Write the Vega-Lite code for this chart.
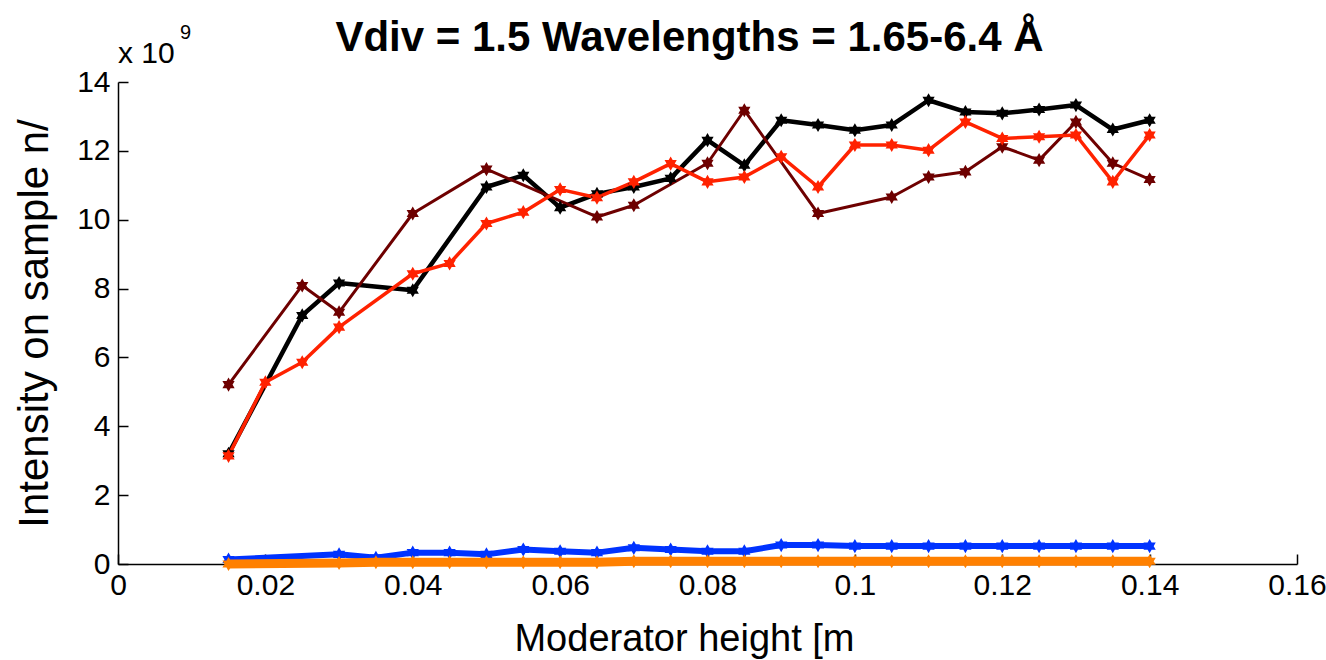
{
  "$schema": "https://vega.github.io/schema/vega-lite/v6.json",
  "width": 1179,
  "height": 482,
  "autosize": {"type": "none"},
  "padding": {"left": 118, "top": 82, "right": 29, "bottom": 96},
  "background": "white",
  "config": {
    "view": {"stroke": null},
    "font": "Liberation Sans",
    "axis": {
      "domainColor": "black", "domainWidth": 1.5, "tickColor": "black", "tickWidth": 1.5,
      "tickSize": -10, "grid": false, "labelFontSize": 30, "labelColor": "black",
      "labelFont": "Liberation Sans", "titleFont": "Liberation Sans",
      "titleFontSize": 40, "titleFontWeight": "normal", "titleColor": "black",
      "labelOverlap": false, "labelBound": false, "labelFlush": false
    }
  },
  "title": {
    "text": "Vdiv = 1.5 Wavelengths = 1.65-6.4 Å",
    "fontSize": 42, "fontWeight": "bold", "font": "Liberation Sans", "color": "black",
    "anchor": "middle", "frame": "group", "dx": -18, "offset": -37
  },
  "datasets": {"curves": [
    {"series": "A", "x": 0.015, "y": 3.2},
    {"series": "A", "x": 0.025, "y": 7.22},
    {"series": "A", "x": 0.03, "y": 8.16},
    {"series": "A", "x": 0.04, "y": 7.95},
    {"series": "A", "x": 0.05, "y": 10.95},
    {"series": "A", "x": 0.055, "y": 11.29},
    {"series": "A", "x": 0.06, "y": 10.35},
    {"series": "A", "x": 0.065, "y": 10.75},
    {"series": "A", "x": 0.07, "y": 10.95},
    {"series": "A", "x": 0.075, "y": 11.2},
    {"series": "A", "x": 0.08, "y": 12.31},
    {"series": "A", "x": 0.085, "y": 11.58},
    {"series": "A", "x": 0.09, "y": 12.89},
    {"series": "A", "x": 0.095, "y": 12.75},
    {"series": "A", "x": 0.1, "y": 12.6},
    {"series": "A", "x": 0.105, "y": 12.75},
    {"series": "A", "x": 0.11, "y": 13.47},
    {"series": "A", "x": 0.115, "y": 13.13},
    {"series": "A", "x": 0.12, "y": 13.09},
    {"series": "A", "x": 0.125, "y": 13.2},
    {"series": "A", "x": 0.13, "y": 13.33},
    {"series": "A", "x": 0.135, "y": 12.62},
    {"series": "A", "x": 0.14, "y": 12.89},
    {"series": "B", "x": 0.015, "y": 5.21},
    {"series": "B", "x": 0.025, "y": 8.09},
    {"series": "B", "x": 0.03, "y": 7.31},
    {"series": "B", "x": 0.04, "y": 10.18},
    {"series": "B", "x": 0.05, "y": 11.47},
    {"series": "B", "x": 0.065, "y": 10.08},
    {"series": "B", "x": 0.07, "y": 10.42},
    {"series": "B", "x": 0.08, "y": 11.64},
    {"series": "B", "x": 0.085, "y": 13.18},
    {"series": "B", "x": 0.095, "y": 10.18},
    {"series": "B", "x": 0.105, "y": 10.66},
    {"series": "B", "x": 0.11, "y": 11.24},
    {"series": "B", "x": 0.115, "y": 11.39},
    {"series": "B", "x": 0.12, "y": 12.12},
    {"series": "B", "x": 0.125, "y": 11.73},
    {"series": "B", "x": 0.13, "y": 12.84},
    {"series": "B", "x": 0.135, "y": 11.64},
    {"series": "B", "x": 0.14, "y": 11.17},
    {"series": "C", "x": 0.015, "y": 3.14},
    {"series": "C", "x": 0.02, "y": 5.28},
    {"series": "C", "x": 0.025, "y": 5.86},
    {"series": "C", "x": 0.03, "y": 6.88},
    {"series": "C", "x": 0.04, "y": 8.43},
    {"series": "C", "x": 0.045, "y": 8.73},
    {"series": "C", "x": 0.05, "y": 9.89},
    {"series": "C", "x": 0.055, "y": 10.22},
    {"series": "C", "x": 0.06, "y": 10.88},
    {"series": "C", "x": 0.065, "y": 10.64},
    {"series": "C", "x": 0.07, "y": 11.1},
    {"series": "C", "x": 0.075, "y": 11.63},
    {"series": "C", "x": 0.08, "y": 11.1},
    {"series": "C", "x": 0.085, "y": 11.24},
    {"series": "C", "x": 0.09, "y": 11.83},
    {"series": "C", "x": 0.095, "y": 10.95},
    {"series": "C", "x": 0.1, "y": 12.17},
    {"series": "C", "x": 0.105, "y": 12.17},
    {"series": "C", "x": 0.11, "y": 12.02},
    {"series": "C", "x": 0.115, "y": 12.84},
    {"series": "C", "x": 0.12, "y": 12.36},
    {"series": "C", "x": 0.125, "y": 12.41},
    {"series": "C", "x": 0.13, "y": 12.46},
    {"series": "C", "x": 0.135, "y": 11.1},
    {"series": "C", "x": 0.14, "y": 12.46},
    {"series": "D", "x": 0.015, "y": 0.13},
    {"series": "D", "x": 0.03, "y": 0.28},
    {"series": "D", "x": 0.035, "y": 0.18},
    {"series": "D", "x": 0.04, "y": 0.33},
    {"series": "D", "x": 0.045, "y": 0.33},
    {"series": "D", "x": 0.05, "y": 0.28},
    {"series": "D", "x": 0.055, "y": 0.42},
    {"series": "D", "x": 0.06, "y": 0.37},
    {"series": "D", "x": 0.065, "y": 0.33},
    {"series": "D", "x": 0.07, "y": 0.47},
    {"series": "D", "x": 0.075, "y": 0.42},
    {"series": "D", "x": 0.08, "y": 0.37},
    {"series": "D", "x": 0.085, "y": 0.37},
    {"series": "D", "x": 0.09, "y": 0.55},
    {"series": "D", "x": 0.095, "y": 0.55},
    {"series": "D", "x": 0.1, "y": 0.52},
    {"series": "D", "x": 0.105, "y": 0.52},
    {"series": "D", "x": 0.11, "y": 0.52},
    {"series": "D", "x": 0.115, "y": 0.52},
    {"series": "D", "x": 0.12, "y": 0.52},
    {"series": "D", "x": 0.125, "y": 0.52},
    {"series": "D", "x": 0.13, "y": 0.52},
    {"series": "D", "x": 0.135, "y": 0.52},
    {"series": "D", "x": 0.14, "y": 0.52},
    {"series": "E", "x": 0.015, "y": 0.0},
    {"series": "E", "x": 0.03, "y": 0.03},
    {"series": "E", "x": 0.035, "y": 0.05},
    {"series": "E", "x": 0.04, "y": 0.05},
    {"series": "E", "x": 0.045, "y": 0.05},
    {"series": "E", "x": 0.05, "y": 0.05},
    {"series": "E", "x": 0.055, "y": 0.05},
    {"series": "E", "x": 0.06, "y": 0.05},
    {"series": "E", "x": 0.065, "y": 0.05},
    {"series": "E", "x": 0.07, "y": 0.08},
    {"series": "E", "x": 0.075, "y": 0.08},
    {"series": "E", "x": 0.08, "y": 0.08},
    {"series": "E", "x": 0.085, "y": 0.08},
    {"series": "E", "x": 0.09, "y": 0.08},
    {"series": "E", "x": 0.095, "y": 0.08},
    {"series": "E", "x": 0.1, "y": 0.08},
    {"series": "E", "x": 0.105, "y": 0.08},
    {"series": "E", "x": 0.11, "y": 0.08},
    {"series": "E", "x": 0.115, "y": 0.08},
    {"series": "E", "x": 0.12, "y": 0.08},
    {"series": "E", "x": 0.125, "y": 0.08},
    {"series": "E", "x": 0.13, "y": 0.08},
    {"series": "E", "x": 0.135, "y": 0.08},
    {"series": "E", "x": 0.14, "y": 0.08}
  ],
  "note": [{"label": "x 10", "sup": "9", "x": 0, "y": 14}]},
  "layer": [
    {
      "data": {"name": "curves"},
      "transform": [{"filter": "datum.series == 'A'"}],
      "mark": {"type": "line", "strokeJoin": "round", "strokeWidth": 4.5},
      "encoding": {
        "x": {"field": "x", "type": "quantitative",
          "scale": {"domain": [0, 0.16], "nice": false, "zero": false},
          "axis": {"values": [0, 0.02, 0.04, 0.06, 0.08, 0.1, 0.12, 0.14, 0.16], "format": "~g",
            "labelPadding": 16, "title": "Moderator height [m", "titlePadding": 20,
            "titleFontSize": 38, "titleX": 566, "titleAlign": "center"}},
        "y": {"field": "y", "type": "quantitative",
          "scale": {"domain": [0, 14], "nice": false},
          "axis": {"values": [0, 2, 4, 6, 8, 10, 12, 14], "labelPadding": 18,
            "title": "Intensity on sample n/", "titlePadding": 20, "titleFontSize": 42}},
        "color": {"field": "series", "type": "nominal", "legend": null,
          "scale": {"domain": ["A", "B", "C", "D", "E"], "range": ["#000000", "#6e0000", "#ff2200", "#0033ff", "#ff8000"]}}
      }
    },
    {
      "data": {"name": "curves"},
      "transform": [{"filter": "datum.series == 'B'"}],
      "mark": {"type": "line", "strokeJoin": "round", "strokeWidth": 3},
      "encoding": {
        "x": {"field": "x", "type": "quantitative"},
        "y": {"field": "y", "type": "quantitative"},
        "color": {"field": "series", "type": "nominal", "legend": null}
      }
    },
    {
      "data": {"name": "curves"},
      "transform": [{"filter": "datum.series == 'C'"}],
      "mark": {"type": "line", "strokeJoin": "round", "strokeWidth": 3.5},
      "encoding": {
        "x": {"field": "x", "type": "quantitative"},
        "y": {"field": "y", "type": "quantitative"},
        "color": {"field": "series", "type": "nominal", "legend": null}
      }
    },
    {
      "data": {"name": "curves"},
      "transform": [{"filter": "datum.series == 'D'"}],
      "mark": {"type": "line", "strokeJoin": "round", "strokeWidth": 6},
      "encoding": {
        "x": {"field": "x", "type": "quantitative"},
        "y": {"field": "y", "type": "quantitative"},
        "color": {"field": "series", "type": "nominal", "legend": null}
      }
    },
    {
      "data": {"name": "curves"},
      "mark": {"type": "point", "filled": true, "opacity": 1, "size": 200,
        "shape": "M0,-1L0.866,0.5L-0.866,0.5Z M0,1L-0.866,-0.5L0.866,-0.5Z"},
      "encoding": {
        "x": {"field": "x", "type": "quantitative"},
        "y": {"field": "y", "type": "quantitative"},
        "color": {"field": "series", "type": "nominal", "legend": null}
      }
    },
    {
      "data": {"name": "curves"},
      "transform": [{"filter": "datum.series == 'E'"}],
      "mark": {"type": "line", "strokeJoin": "round", "strokeWidth": 9},
      "encoding": {
        "x": {"field": "x", "type": "quantitative"},
        "y": {"field": "y", "type": "quantitative"},
        "color": {"field": "series", "type": "nominal", "legend": null}
      }
    },
    {
      "data": {"name": "note"},
      "mark": {"type": "text", "align": "left", "baseline": "alphabetic", "fontSize": 30, "dy": -19, "color": "black", "font": "Liberation Sans"},
      "encoding": {
        "x": {"field": "x", "type": "quantitative"},
        "y": {"field": "y", "type": "quantitative"},
        "text": {"field": "label"}
      }
    },
    {
      "data": {"name": "note"},
      "mark": {"type": "text", "align": "left", "baseline": "alphabetic", "fontSize": 20, "dx": 62, "dy": -43, "color": "black", "font": "Liberation Sans"},
      "encoding": {
        "x": {"field": "x", "type": "quantitative"},
        "y": {"field": "y", "type": "quantitative"},
        "text": {"field": "sup"}
      }
    }
  ]
}
